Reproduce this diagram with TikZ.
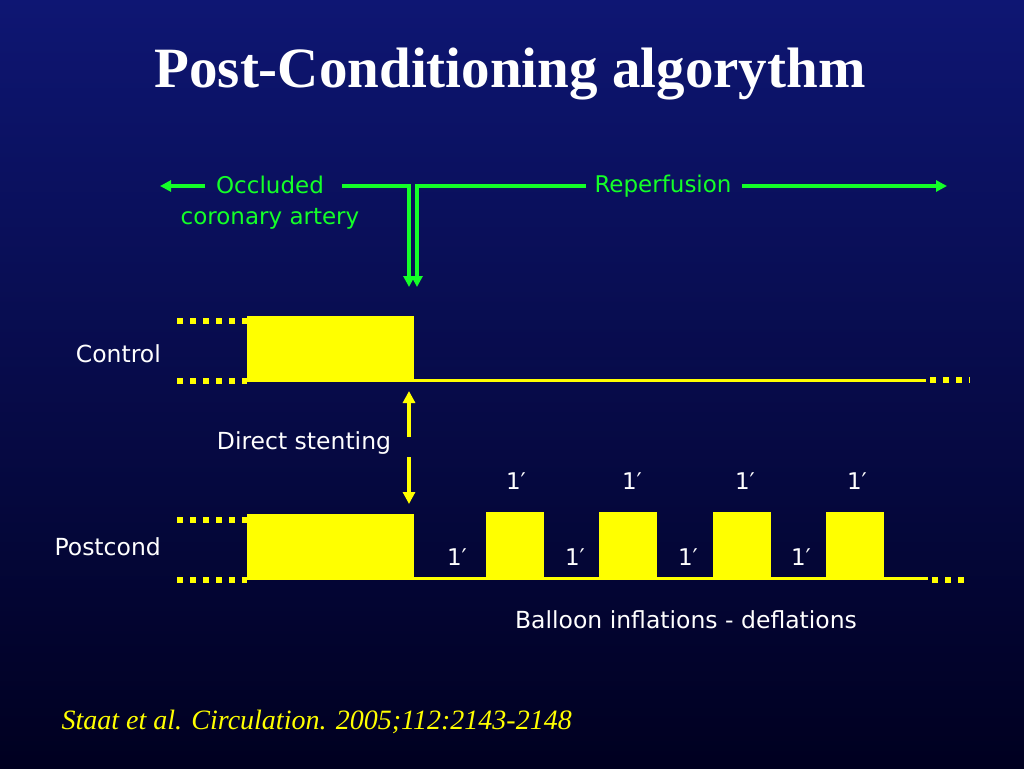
\documentclass[tikz,border=0pt]{standalone}
\usepackage{fontspec}
\setmainfont{Liberation Serif}
\newfontfamily\labfont{DejaVu Sans}
\usetikzlibrary{arrows.meta}
\definecolor{bgtop}{RGB}{14,22,115}
\definecolor{bgbot}{RGB}{0,0,32}
\definecolor{lgreen}{RGB}{20,255,40}
\definecolor{wyellow}{RGB}{255,255,0}
\begin{document}
\begin{tikzpicture}[x=1pt,y=-1pt,
  glab/.style={text=lgreen,font=\labfont\fontsize{23}{31}\selectfont,inner sep=2pt,align=center},
  wlab/.style={text=white,font=\labfont\fontsize{23.5}{28}\selectfont,inner sep=2pt},
  onelab/.style={text=white,font=\labfont\fontsize{23}{28}\selectfont,inner sep=1pt},
  garrow/.style={draw=lgreen,line width=3.5pt,-{Triangle[length=11pt,width=11pt]}},
  gline/.style={draw=lgreen,line width=3.5pt},
  ywave/.style={draw=wyellow,line width=3.5pt},
  ydots/.style={draw=wyellow,line width=6pt,dash pattern=on 6pt off 7pt},
  yblock/.style={fill=wyellow},
  yarrow/.style={draw=wyellow,line width=3.5pt,-{Triangle[length=12pt,width=12pt]}}
]
\useasboundingbox (0,0) rectangle (1024,768);
\shade[top color=bgtop,bottom color=bgbot] (0,0) rectangle (1024,768);

% title
\node (title) at (510,74) {\textcolor{white}{\fontsize{57}{66}\selectfont\bfseries Post-Conditioning algorythm}};

% green labels
\node[glab,anchor=center] (occ) at (270,203) {Occluded\\coronary artery};
\node[glab] (rep) at (663,186) {Reperfusion};
\coordinate (occL) at (342,186);
\coordinate (leftTip) at (160,186);
\coordinate (occArrowStart) at (205,186);
\coordinate (c1) at (409,186);
\coordinate (c1b) at (409,287);
\coordinate (c2) at (417,186);
\coordinate (c2b) at (417,287);
\coordinate (repL) at (586,186);
\coordinate (repR) at (742,186);
\coordinate (rightTip) at (947,186);
\draw[garrow] (occArrowStart) -- (leftTip);
\draw[gline,line join=miter] (occL) -- (c1) -- ++(0,85);
\draw[garrow] (409,270) -- (c1b);
\draw[gline,line join=miter] (repL) -- (c2) -- ++(0,85);
\draw[garrow] (417,270) -- (c2b);
\draw[garrow] (repR) -- (rightTip);

% Control trace
\node[wlab,anchor=east] (ctrl) at (163,354) {Control};
\node[yblock,minimum width=167pt,minimum height=66pt,inner sep=0pt] (cbox) at (330.5,349) {};
\coordinate (cdotTop) at (177,321);
\coordinate (cdotBot) at (177,381);
\coordinate (cEnd) at (926,380.25);
\coordinate (cDotsR) at (930,380);
\draw[ydots] (cdotTop) -- (cbox.west |- cdotTop);
\draw[ydots] (cdotBot) -- (cbox.west |- cdotBot);
\draw[ywave] (cbox.east |- cEnd) -- (cEnd);
\draw[ydots] (cDotsR) -- ++(40,0);

% direct stenting
\node[wlab] (ds) at (304,443) {Direct stenting};
\coordinate (dsTop) at (409,391);
\coordinate (dsTopE) at (409,437);
\coordinate (dsBot) at (409,504);
\coordinate (dsBotS) at (409,457);
\draw[yarrow] (dsTopE) -- (dsTop);
\draw[yarrow] (dsBotS) -- (dsBot);

% Postcond trace
\node[wlab,anchor=east] (pc) at (163,547) {Postcond};
\node[yblock,minimum width=167pt,minimum height=66pt,inner sep=0pt] (pbox) at (330.5,547) {};
\coordinate (pdotTop) at (177,520);
\coordinate (pdotBot) at (177,580);
\coordinate (pEnd) at (928,578.25);
\coordinate (pDotsR) at (932,580);
\draw[ydots] (pdotTop) -- (pbox.west |- pdotTop);
\draw[ydots] (pdotBot) -- (pbox.west |- pdotBot);
\draw[ywave] (pbox.east |- pEnd) -- (pEnd);
\draw[ydots] (pDotsR) -- ++(38,0);
\foreach \i/\x in {1/486,2/599,3/713,4/826}{
  \node[yblock,minimum width=58pt,minimum height=68pt,inner sep=0pt,anchor=north west] (p\i) at (\x,512) {};
}
\foreach \i/\x in {1/516,2/632,3/745,4/857}{
  \node[onelab] (up\i) at (\x,481) {1′};
}
\foreach \i/\x in {1/457,2/575,3/688,4/801}{
  \node[onelab] (lo\i) at (\x,557) {1′};
}
\node[wlab] (bal) at (686,620) {Balloon inflations - deflations};

% citation
\node[anchor=west,text=wyellow] (cite) at (58,722) {\fontsize{28}{32}\selectfont\itshape Staat et al. Circulation. 2005;112:2143-2148};
\end{tikzpicture}
\end{document}
